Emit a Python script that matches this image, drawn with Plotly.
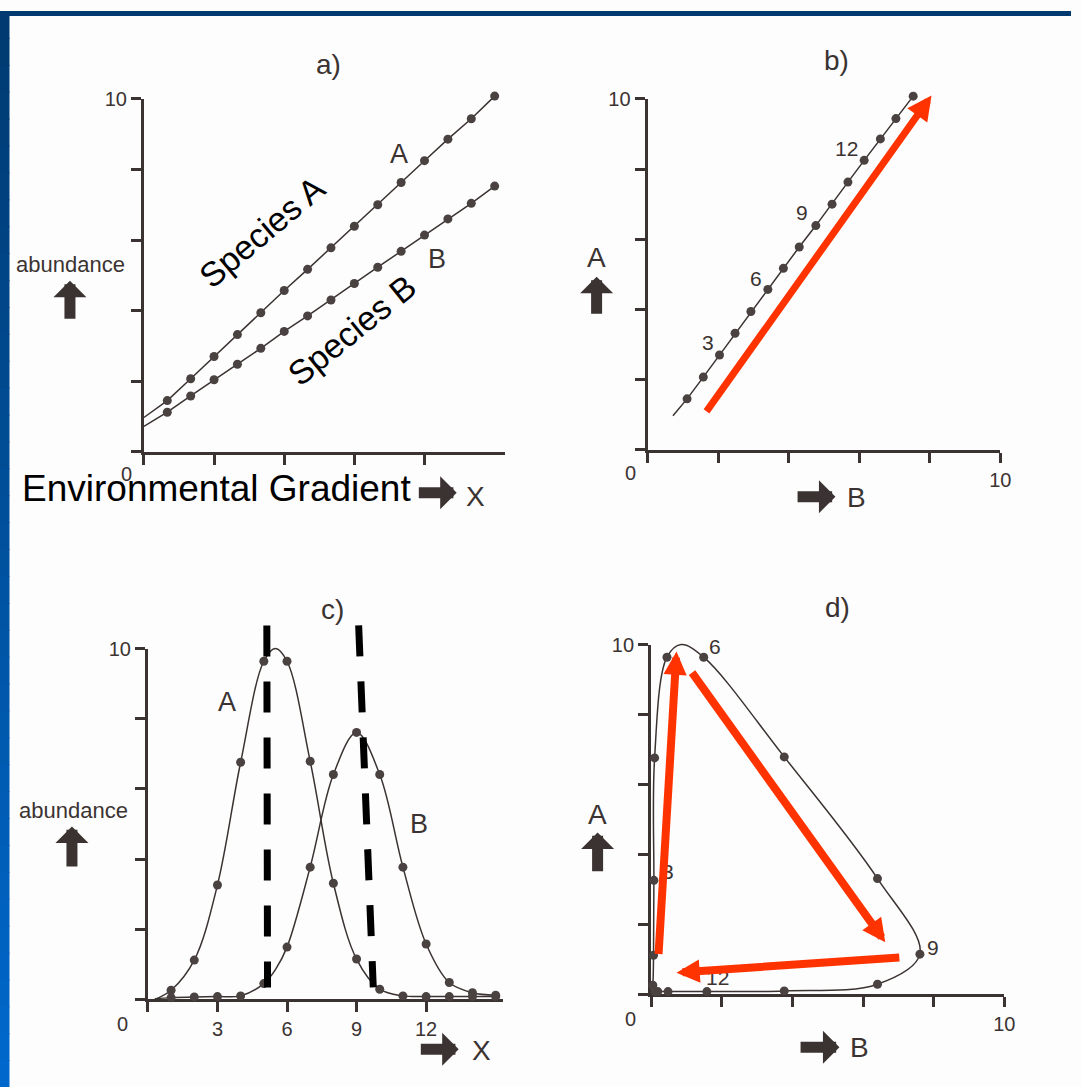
import plotly.graph_objects as go

W, H = 1082, 1087
INK = "#3b3331"
DOT = "#4a4240"
RED = "#ff3300"
FONT = "Liberation Sans, Arial, sans-serif"

# ---------------- data ----------------
# panels a / b : linear responses along the gradient (sites 1..15)
sites = list(range(1, 16))
lin_A = [1.45, 2.07, 2.70, 3.32, 3.94, 4.57, 5.17, 5.78, 6.39, 7.00, 7.63, 8.25, 8.86, 9.44, 10.08]
lin_B = [1.12, 1.58, 2.04, 2.48, 2.93, 3.41, 3.85, 4.30, 4.77, 5.23, 5.68, 6.14, 6.60, 7.04, 7.53]
lin_x0, lin_A0, lin_B0 = 0, 0.97, 0.72          # where the fitted lines start

# panels c / d : unimodal responses (sites 1..15)
uni_A = [0.26, 1.12, 3.26, 6.76, 9.64, 9.64, 6.79, 3.31, 1.15, 0.29, 0.10, 0.08, 0.08, 0.08, 0.08]
uni_B = [0.05, 0.07, 0.08, 0.10, 0.45, 1.49, 3.77, 6.41, 7.61, 6.41, 3.77, 1.58, 0.48, 0.19, 0.12]
curve_start = (0.3, 0.0, 0.02)     # x, A, B where the drawn curves begin
curve_peak = (5.5, 10.0, 0.85)     # x, A, B at the top of curve A

# dashed optimum lines in panel c  (x_top, x_bottom, y_top, y_bottom)
dash_lines_c = [(5.13, 5.16, 10.66, 0.34), (9.09, 9.72, 10.66, 0.34)]

# red trend arrows (tail B, tail A, tip B, tip A)
arrow_b = [(1.64, 1.05, 8.05, 10.1)]
arrows_d = [(0.21, 1.11, 0.72, 9.8), (1.13, 9.24, 6.63, 1.49), (7.07, 1.06, 0.72, 0.62)]

site_labels = ["3", "6", "9", "12"]

# ---------------- geometry ----------------
# the photographed page comes out slightly scaled and shifted; map target pixels to page pixels
K, OFF_Y = 0.9905, 10.0

def PX(x):
    return x / K

def PY(y):
    return (y - OFF_Y) / K

# panel frames in target pixels: origin, px per unit, x max
G_target = {
    1: dict(ox=144, oy=451, sx=23.4, sy=35.3, xmax=15.45),
    2: dict(ox=648, oy=449, sx=35.3, sy=35.1, xmax=10.0),
    3: dict(ox=148, oy=999, sx=23.2, sy=35.1, xmax=15.3),
    4: dict(ox=651.5, oy=994, sx=35.35, sy=35.0, xmax=10.0),
}
G = {n: dict(ox=PX(g["ox"]), oy=PY(g["oy"]), sx=g["sx"] / K, sy=g["sy"] / K, xmax=g["xmax"])
     for n, g in G_target.items()}

layout = dict(
    width=W, height=H, margin=dict(l=0, r=0, t=0, b=0),
    paper_bgcolor="#fdfdfd", plot_bgcolor="rgba(0,0,0,0)",
    showlegend=False, hovermode=False,
    font=dict(family=FONT, color=INK),
)

def ax_key(a, n):
    return f"{a}axis" if n == 1 else f"{a}axis{n}"

def ref(a, n):
    return a if n == 1 else f"{a}{n}"

common = dict(showline=True, linecolor=INK, linewidth=3, ticks="outside", ticklen=10,
              tickwidth=2.5, tickcolor=INK, showgrid=False, zeroline=False,
              tickfont=dict(size=20, color=INK, family=FONT), fixedrange=True,
              tickmode="array")

xt = {
    1: ([0, 3, 6, 9, 12], ["", "", "", "", ""]),
    2: ([0, 2, 4, 6, 8, 10], ["", "", "", "", "", "10"]),
    3: ([0, 3, 6, 9, 12], ["", "3", "6", "9", "12"]),
    4: ([0, 2, 4, 6, 8, 10], ["", "", "", "", "", "10"]),
}
yt = ([0, 2, 4, 6, 8, 10], ["", "", "", "", "", "10"])
P = 40
for n, g in G.items():
    xd = [g["ox"] / W, (g["ox"] + g["xmax"] * g["sx"]) / W]
    yd = [(H - g["oy"]) / H, (H - g["oy"] + 10 * g["sy"]) / H]
    layout[ax_key("x", n)] = dict(domain=xd, range=[0, g["xmax"]], anchor=ref("y", n),
                                 tickvals=xt[n][0], ticktext=xt[n][1], **common)
    layout[ax_key("y", n)] = dict(domain=yd, range=[0, 10], anchor=ref("x", n),
                                 tickvals=yt[0], ticktext=yt[1], **common)
    m = n + 4
    layout[ax_key("x", m)] = dict(domain=[(g["ox"] - P) / W, (g["ox"] + g["xmax"] * g["sx"] + P) / W],
                                 range=[-P / g["sx"], g["xmax"] + P / g["sx"]],
                                 anchor=ref("y", m), visible=False, fixedrange=True)
    layout[ax_key("y", m)] = dict(domain=[(H - g["oy"] - P) / H, (H - g["oy"] + 10 * g["sy"] + P) / H],
                                 range=[-P / g["sy"], 10 + P / g["sy"]],
                                 anchor=ref("x", m), visible=False, fixedrange=True)

fig = go.Figure()

def line(n, x, y, **kw):
    fig.add_trace(go.Scatter(x=x, y=y, mode="lines", xaxis=ref("x", n + 4), yaxis=ref("y", n + 4),
                             line=dict(color=INK, width=1.5, **kw), hoverinfo="skip"))

def dots(n, x, y):
    fig.add_trace(go.Scatter(x=x, y=y, mode="markers", xaxis=ref("x", n + 4), yaxis=ref("y", n + 4),
                             marker=dict(size=9, color=DOT), cliponaxis=False, hoverinfo="skip"))

# panel a
line(1, [lin_x0] + sites, [lin_A0] + lin_A)
line(1, [lin_x0] + sites, [lin_B0] + lin_B)
dots(1, sites, lin_A)
dots(1, sites, lin_B)

# panel b
line(2, [lin_B0] + lin_B, [lin_A0] + lin_A)
dots(2, lin_B, lin_A)

# panel c
cx = [curve_start[0]] + sites[:5] + [curve_peak[0]] + sites[5:]
cA = [curve_start[1]] + uni_A[:5] + [curve_peak[1]] + uni_A[5:]
cB = [curve_start[2]] + uni_B[:5] + [curve_peak[2]] + uni_B[5:]
line(3, cx, cA, shape="spline", smoothing=1.0)
line(3, cx, cB, shape="spline", smoothing=1.0)
dots(3, sites, uni_A)
dots(3, sites, uni_B)
for xt_, xb_, yt_, yb_ in dash_lines_c:
    fig.add_trace(go.Scatter(x=[xt_, xb_], y=[yt_, yb_], mode="lines", xaxis="x7", yaxis="y7",
                             line=dict(color="#000000", width=7, dash="31px,25px"), hoverinfo="skip"))

# panel d
line(4, cB, cA, shape="spline", smoothing=1.0)
dots(4, uni_B, uni_A)

# ---------------- annotations ----------------
ann = []

def txt(text, x, y, size, color=INK, xref="paper", yref="paper", angle=0, **kw):
    if xref == "paper":
        x = PX(x) / W
    if yref == "paper":
        y = 1 - PY(y) / H
    d = dict(text=text, x=x, y=y, xref=xref, yref=yref, showarrow=False, textangle=angle,
             font=dict(size=size, color=color, family=FONT), xanchor="center", yanchor="middle")
    d.update(kw)
    ann.append(d)

def block_arrow(x0, y0, x1, y1):
    ann.append(dict(x=PX(x1) / W, y=1 - PY(y1) / H, xref="paper", yref="paper",
                    ax=(x0 - x1) / K, ay=(y0 - y1) / K,
                    showarrow=True, arrowhead=1, arrowwidth=11, arrowsize=0.5,
                    arrowcolor=INK, text=""))

def red_arrow(n, tb, ta, hb, ha, w, s):
    ann.append(dict(x=hb, y=ha, ax=tb, ay=ta, xref=ref("x", n), yref=ref("y", n),
                    axref=ref("x", n), ayref=ref("y", n), showarrow=True, arrowhead=2,
                    arrowwidth=w, arrowsize=s, arrowcolor=RED, text=""))

# origin "0" labels
for n, dx, dy in [(1, -17, -22), (2, -17, -23), (3, -25, -24), (4, -20, -24)]:
    txt("0", 0, 0, 20, xref=ref("x", n), yref=ref("y", n), xshift=dx / K, yshift=dy / K)

# panel titles
txt("a)", 329, 64, 28)
txt("b)", 837, 60, 28)
txt("c)", 333, 609, 28)
txt("d)", 838, 607, 28)

# axis titles and block arrows
txt("abundance", 71, 264, 22)
block_arrow(70, 319, 70, 280)
block_arrow(418, 492, 457, 492)
txt("X", 476, 496, 28)

txt("A", 597, 257, 28)
block_arrow(597, 314, 597, 276)
block_arrow(797, 496, 836, 496)
txt("B", 857, 497, 28)

txt("abundance", 74, 810, 22)
block_arrow(72, 867, 72, 826)
block_arrow(420, 1049, 459, 1049)
txt("X", 482, 1050, 28)

txt("A", 598, 814, 28)
block_arrow(598, 872, 598, 832)
block_arrow(800, 1047, 840, 1047)
txt("B", 860, 1047, 28)

# curve labels
txt("A", 10.9, 8.44, 27, xref="x", yref="y")
txt("B", 12.52, 5.47, 27, xref="x", yref="y")
txt("A", 3.42, 8.47, 27, xref="x3", yref="y3")
txt("B", 11.7, 4.99, 27, xref="x3", yref="y3")

# site number labels
for lab, (bx, ay) in zip(site_labels, [(1.70, 3.05), (3.06, 4.87), (4.39, 6.75), (5.64, 8.58)]):
    txt(lab, bx, ay, 21, xref="x2", yref="y2")
for lab, (bx, ay) in zip(site_labels, [(0.47, 3.51), (1.82, 9.94), (7.97, 1.35), (1.89, 0.49)]):
    txt(lab, bx, ay, 21, xref="x4", yref="y4")

# overlay texts (black)
txt("Species A", 5.03, 6.24, 34, color="#000000", xref="x", yref="y", angle=-40)
txt("Species B", 8.89, 3.46, 34, color="#000000", xref="x", yref="y", angle=-39)
txt("Environmental Gradient", 20, 488, 37, color="#000000", xanchor="left")

# red arrows
for tb, ta, hb, ha in arrow_b:
    red_arrow(2, tb, ta, hb, ha, 7, 0.7)
for tb, ta, hb, ha in arrows_d:
    red_arrow(4, tb, ta, hb, ha, 8, 0.58)

layout["annotations"] = ann

# slide frame: dark top bar and blue gradient left bar
shapes = [dict(type="rect", xref="paper", yref="paper", x0=0, x1=1, y0=1 - 5 / H, y1=1,
               fillcolor="#003a70", line=dict(width=0), layer="above")]
N = 40
c0, c1 = (0, 58, 112), (0, 104, 204)
for i in range(N):
    t = i / (N - 1)
    col = "rgb(%d,%d,%d)" % tuple(round(a + (b - a) * t) for a, b in zip(c0, c1))
    shapes.append(dict(type="rect", xref="paper", yref="paper", x0=0, x1=PX(9.5) / W,
                       y0=1 - (i + 1) / N - 0.001, y1=1 - i / N, fillcolor=col,
                       line=dict(width=0), layer="above"))
layout["shapes"] = shapes

fig.update_layout(**layout)
fig.write_html(
    "out.html",
    post_script="document.body.style.margin='0';document.body.style.padding='0';"
                "document.body.style.overflow='hidden';"
                "document.documentElement.style.overflow='hidden';",
)
